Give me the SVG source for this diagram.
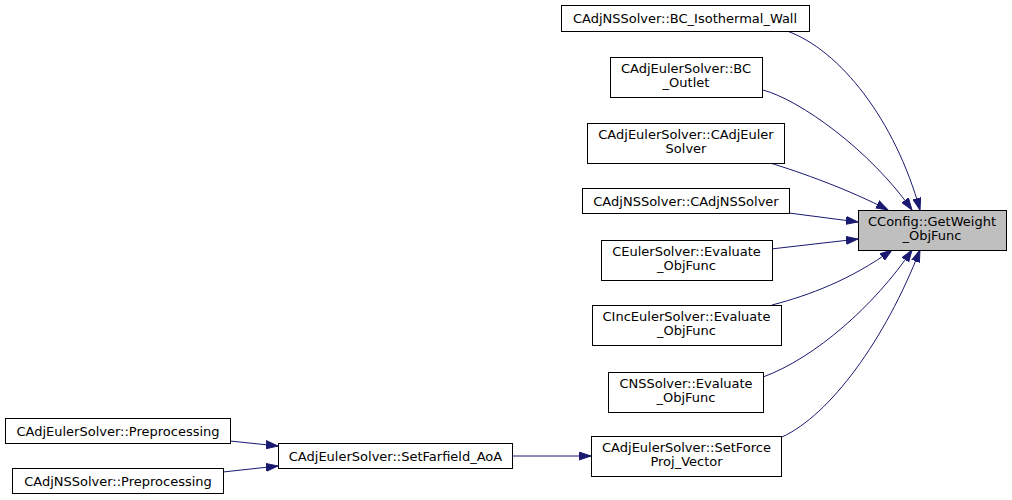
<svg xmlns="http://www.w3.org/2000/svg" width="1012" height="500" viewBox="0 0 1012 500">
<style>
.n rect{fill:#ffffff;stroke:#000000;stroke-width:1}
.n.sel rect{fill:#bfbfbf}
.n text{font-family:"DejaVu Sans","Liberation Sans",sans-serif;font-size:13px;fill:#000000;text-anchor:middle}
.e path{fill:none;stroke:#191970;stroke-width:1}
</style>
<defs>
<marker id="ah" markerUnits="userSpaceOnUse" markerWidth="13" markerHeight="9" refX="12" refY="4.5" orient="auto" viewBox="0 0 13 9">
<path d="M0,0.5 L12,4.5 L0,8.5 z" fill="#191970" stroke="#191970" stroke-width="1"/>
</marker>
</defs>
<rect width="1012" height="500" fill="#ffffff"/>
<g class="e">
<path marker-end="url(#ah)" d="M787,31 C840,50 895,120 920,210"/>
<path marker-end="url(#ah)" d="M763,90 C800,100 870,150 912,210"/>
<path marker-end="url(#ah)" d="M770,163 C800,172 850,190 888,210"/>
<path marker-end="url(#ah)" d="M789,213 L858,222"/>
<path marker-end="url(#ah)" d="M771,249 L858,239"/>
<path marker-end="url(#ah)" d="M772,305 C810,295 850,280 892,250"/>
<path marker-end="url(#ah)" d="M763,377 C815,358 875,305 912,250"/>
<path marker-end="url(#ah)" d="M782,437 C830,415 885,340 920,250"/>
<path marker-end="url(#ah)" d="M512,456 L591,456"/>
<path marker-end="url(#ah)" d="M230,441 L278,446"/>
<path marker-end="url(#ah)" d="M223,472 L278,466"/>
</g>
<g id="node1" class="n sel"><rect x="858.5" y="210.5" width="148" height="40"/><text x="932" y="226">CConfig::GetWeight</text><text x="932" y="240">_ObjFunc</text></g>
<g id="node2" class="n"><rect x="561.5" y="5.5" width="248" height="26"/><text x="685" y="23">CAdjNSSolver::BC_Isothermal_Wall</text></g>
<g id="node3" class="n"><rect x="610.5" y="57.5" width="152" height="40"/><text x="686" y="73">CAdjEulerSolver::BC</text><text x="686" y="87">_Outlet</text></g>
<g id="node4" class="n"><rect x="587.5" y="123.5" width="197" height="40"/><text x="686" y="139">CAdjEulerSolver::CAdjEuler</text><text x="686" y="153">Solver</text></g>
<g id="node5" class="n"><rect x="582.5" y="188.5" width="207" height="25"/><text x="686" y="206">CAdjNSSolver::CAdjNSSolver</text></g>
<g id="node6" class="n"><rect x="601.5" y="240.5" width="171" height="40"/><text x="686.5" y="256">CEulerSolver::Evaluate</text><text x="686.5" y="270">_ObjFunc</text></g>
<g id="node7" class="n"><rect x="592.5" y="305.5" width="189" height="40"/><text x="686.5" y="321">CIncEulerSolver::Evaluate</text><text x="686.5" y="335">_ObjFunc</text></g>
<g id="node8" class="n"><rect x="608.5" y="372.5" width="155" height="40"/><text x="686" y="388">CNSSolver::Evaluate</text><text x="686" y="402">_ObjFunc</text></g>
<g id="node9" class="n"><rect x="591.5" y="436.5" width="190" height="40"/><text x="686.5" y="452">CAdjEulerSolver::SetForce</text><text x="686.5" y="466">Proj_Vector</text></g>
<g id="node10" class="n"><rect x="278.5" y="443.5" width="234" height="25"/><text x="395.5" y="460.5">CAdjEulerSolver::SetFarfield_AoA</text></g>
<g id="node11" class="n"><rect x="5.5" y="418.5" width="225" height="25"/><text x="118" y="435.5">CAdjEulerSolver::Preprocessing</text></g>
<g id="node12" class="n"><rect x="12.5" y="468.5" width="211" height="25"/><text x="118" y="485.5">CAdjNSSolver::Preprocessing</text></g>
</svg>
